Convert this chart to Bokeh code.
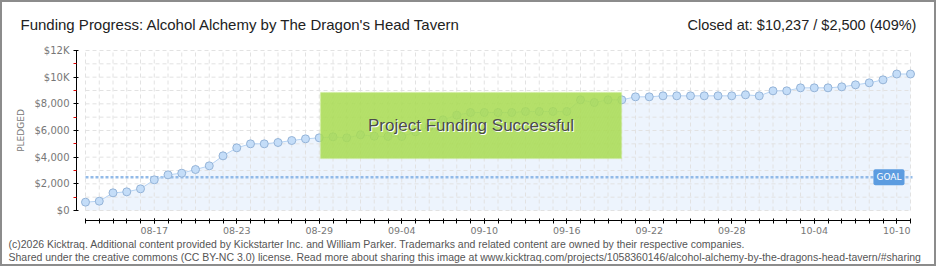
import pandas as pd
from bokeh.plotting import figure
from bokeh.models import (FixedTicker, Range1d, Label, BoxAnnotation,
                          ColumnDataSource, LinearAxis)
from bokeh.embed import file_html
from bokeh.resources import INLINE

# ---------------- data ----------------
title_text = "Funding Progress: Alcohol Alchemy by The Dragon's Head Tavern"
status_text = "Closed at:  $10,237 /  $2,500 (409%)"
days = [d.strftime("%m-%d") for d in pd.date_range("2025-08-12", "2025-10-11")]
pledged = [625, 700, 1325, 1400, 1625, 2300, 2675, 2800, 3075, 3350,
           4100, 4700, 5000, 5000, 5100, 5250, 5375, 5450, 5525, 5450,
           5675, 5575, 5550, 5550, 5900, 6300, 6800, 7150, 7350, 7350,
           7350, 7350, 7425, 7425, 7425, 7425, 8300, 8100, 8300, 8300,
           8525, 8525, 8600, 8600, 8600, 8600, 8600, 8600, 8675, 8600,
           8975, 8975, 9200, 9200, 9200, 9275, 9425, 9575, 9800, 10237,
           10237]
goal = 2500
y_ticks = [0, 2000, 4000, 6000, 8000, 10000, 12000]
y_minor = [1000, 3000, 5000, 7000, 9000, 11000]
y_tick_labels = ["$0", "$2,000", "$4,000", "$6,000", "$8,000", "$10K", "$12K"]
x_label_days = ["08-17", "08-23", "08-29", "09-04", "09-10", "09-16",
                "09-22", "09-28", "10-04", "10-10"]
banner_text = "Project Funding Successful"
goal_text = "GOAL"
footer_lines = [
    "(c)2026 Kicktraq. Additional content provided by Kickstarter Inc. and William Parker. Trademarks and related content are owned by their respective companies.",
    "Shared under the creative commons (CC BY-NC 3.0) license. Read more about sharing this image at www.kicktraq.com/projects/1058360146/alcohol-alchemy-by-the-dragons-head-tavern/#sharing",
]

# ---------------- layout constants (canvas = 936 x 266, inside a 2px border) ----
W, H = 936, 266
px_per_day = 13.75
x0_px = 83          # canvas x of first day
y0_px = 208         # canvas y of $0
per_px = 75.0       # dollars per pixel

x = list(range(len(days)))
n = len(days) - 1
src = ColumnDataSource(dict(x=x, y=pledged, base=[0] * len(x)))

p = figure(width=W, height=H, output_backend="svg", toolbar_location=None,
           x_range=Range1d(-x0_px / px_per_day, (W - x0_px) / px_per_day),
           y_range=Range1d(-(H - y0_px) * per_px, y0_px * per_px),
           x_axis_location=None, y_axis_location=None,
           min_border_left=0, min_border_right=0,
           min_border_top=0, min_border_bottom=0,
           background_fill_color="white", border_fill_color="white")
p.styles = {"border": "2px solid #8c8c8c"}
p.outline_line_color = None
p.grid.visible = False


def sx(page_x):
    return page_x - 2


def sy(page_y):
    return H - (page_y - 2)


# area
p.varea(x="x", y1="base", y2="y", source=src, fill_color="#edf4fd", fill_alpha=1)

# grid (bounded to data area)
grid_y = list(range(0, 12001, 1000))
p.segment(x0=[0] * len(grid_y), x1=[n] * len(grid_y), y0=grid_y, y1=grid_y,
          line_color="#e2e2e2", line_width=1, line_dash="4 3")
p.segment(x0=x, x1=x, y0=[0] * len(x), y1=[12000] * len(x),
          line_color="#e2e2e2", line_width=1, line_dash="4 3")

# goal line
p.line(x=[0, n + 2 / px_per_day], y=[goal, goal], line_color="#93bbe8",
       line_width=2.5, line_dash="3 2")

# pledged line + points
p.line(x="x", y="y", source=src, line_color="#b6d3f3", line_width=1)
p.scatter(x="x", y="y", source=src, size=8, fill_color="#c4ddf8",
          line_color="#95b4d8", line_width=1)

# axes (fixed inside the full-canvas frame)
label_pos = [days.index(d) for d in x_label_days]
xa = LinearAxis(fixed_location=-(218 - y0_px) * per_px)
xa.ticker = FixedTicker(ticks=label_pos, minor_ticks=x)
xa.major_label_overrides = {i: days[i] for i in label_pos}
xa.bounds = (0, n)
xa.axis_line_color = "black"
xa.major_tick_line_color = "black"
xa.minor_tick_line_color = "black"
xa.major_tick_in = 2
xa.major_tick_out = 3
xa.minor_tick_in = 2
xa.minor_tick_out = 3
xa.major_label_standoff = 3
xa.major_label_text_font = "DejaVu Sans"
xa.major_label_text_font_size = "9.5px"
xa.major_label_text_color = "#777777"
p.add_layout(xa, "below")

ya = LinearAxis(fixed_location=(74 - x0_px) / px_per_day)
ya.ticker = FixedTicker(ticks=y_ticks, minor_ticks=y_minor)
ya.major_label_overrides = {t: l for t, l in zip(y_ticks, y_tick_labels)}
ya.bounds = (0, 12000)
ya.axis_line_color = "black"
ya.major_tick_line_color = "black"
ya.minor_tick_line_color = "#e00000"
ya.major_tick_in = 2
ya.major_tick_out = 3
ya.minor_tick_in = 0
ya.minor_tick_out = 3
ya.major_label_standoff = 4
ya.major_label_text_font = "DejaVu Sans"
ya.major_label_text_font_size = "10px"
ya.major_label_text_color = "#777777"
ya.axis_label = "PLEDGED"
ya.axis_label_text_font = "DejaVu Sans"
ya.axis_label_text_font_size = "9px"
ya.axis_label_text_font_style = "normal"
ya.axis_label_text_color = "#777777"
ya.axis_label_standoff = 6
p.add_layout(ya, "left")

# success banner
b_left, b_right = (320 - 85) / px_per_day, (621 - 85) / px_per_day
b_bottom, b_top = (210 - 158) * per_px, (210 - 92) * per_px
p.add_layout(BoxAnnotation(left=b_left, right=b_right, bottom=b_bottom, top=b_top,
                           fill_color="#a6da4f", fill_alpha=0.86,
                           line_color="#c6eb8c", line_width=1.5,
                           hatch_pattern="/", hatch_color="#b9e472",
                           hatch_alpha=0.3, hatch_scale=5, hatch_weight=1))
bx, by = (b_left + b_right) / 2, (b_bottom + b_top) / 2
for dx, dy, col in [(1, -1, "white"), (0, 0, "#4b4b4b")]:
    p.add_layout(Label(x=bx, y=by, x_offset=dx, y_offset=dy, text=banner_text,
                       text_align="center", text_baseline="middle",
                       text_font="Liberation Sans", text_font_size="17px",
                       text_color=col))

# goal tag
p.add_layout(Label(x=n, y=goal, x_offset=-6, text=goal_text, text_align="right",
                   text_baseline="middle", text_font="DejaVu Sans",
                   text_font_size="9px", text_color="white",
                   background_fill_color="#5c9ce0", background_fill_alpha=1,
                   border_radius=2, padding=3))

# titles and footer
p.add_layout(Label(x=sx(20), y=sy(24), x_units="screen", y_units="screen",
                   text=title_text, text_align="left", text_baseline="middle",
                   text_font="Liberation Sans", text_font_size="15px",
                   text_color="#222222"))
p.add_layout(Label(x=sx(924), y=sy(24), x_units="screen", y_units="screen",
                   text=status_text, text_align="right", text_baseline="middle",
                   text_font="Liberation Sans", text_font_size="14.5px",
                   text_color="#222222"))
for i, line in enumerate(footer_lines):
    p.add_layout(Label(x=sx(8), y=sy(243 + 13 * i), x_units="screen", y_units="screen",
                       text=line, text_align="left", text_baseline="middle",
                       text_font="Liberation Sans", text_font_size="10.5px",
                       text_color="#555555"))

open("out.html", "w").write(file_html(p, INLINE))
